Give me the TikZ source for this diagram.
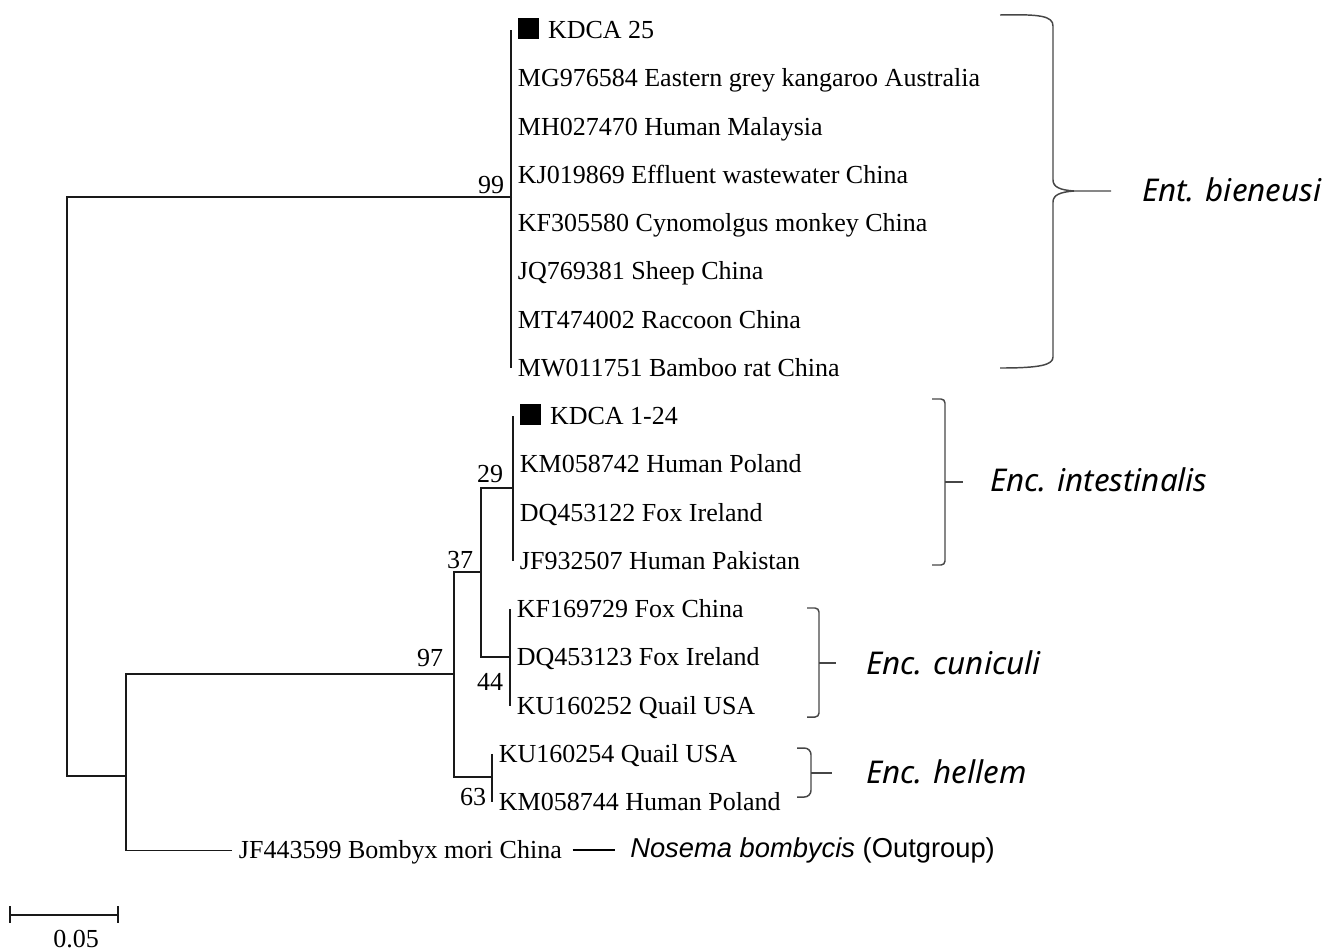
\documentclass[tikz,border=0pt]{standalone}
\usepackage{fontspec}
\setmainfont{Liberation Serif}
\newfontfamily\cladefont{Noto Sans}
\newfontfamily\grpfont{Liberation Sans}
\usetikzlibrary{calc}

\begin{document}
\begin{tikzpicture}[x=0.75pt,y=0.75pt,yscale=-1,xscale=1,
  branch/.style={draw={rgb, 255:red, 25; green, 25; blue, 25 },line width=1.1},
  bracket/.style={draw={rgb, 255:red, 70; green, 70; blue, 70 },line width=1.1,rounded corners=3},
  leaf/.style={anchor=west,inner xsep=5,inner ysep=0,text height=13pt,text depth=0pt,font=\fontsize{19.5}{23}\selectfont},
  boot/.style={inner sep=0,text height=13pt,text depth=0pt,font=\fontsize{19.5}{23}\selectfont},
  clade/.style={anchor=west,inner sep=0,font=\cladefont\itshape\fontsize{23.5}{28}\selectfont},
]
\useasboundingbox (0,0) rectangle (1341,951);

%Ent. bieneusi leaves
\node[leaf] (kdca25) at (511,30) {\rule{0.8em}{0.8em}\hspace{0.36em}KDCA 25};
\node[leaf] (mg976) at (511,78.25) {MG976584 Eastern grey kangaroo Australia};
\node[leaf] (mh027) at (511,126.5) {MH027470 Human Malaysia};
\node[leaf] (kj019) at (511,174.75) {KJ019869 Effluent wastewater China};
\node[leaf] (kf305) at (511,223) {KF305580 Cynomolgus monkey China};
\node[leaf] (jq769) at (511,271.25) {JQ769381 Sheep China};
\node[leaf] (mt474) at (511,319.5) {MT474002 Raccoon China};
\node[leaf] (mw011) at (511,367.75) {MW011751 Bamboo rat China};
%Enc. intestinalis leaves
\node[leaf] (kdca124) at (513,416) {\rule{0.8em}{0.8em}\hspace{0.36em}KDCA 1-24};
\node[leaf] (km742) at (513,464.25) {KM058742 Human Poland};
\node[leaf] (dq122) at (513,512.5) {DQ453122 Fox Ireland};
\node[leaf] (jf932) at (513,560.75) {JF932507 Human Pakistan};
%Enc. cuniculi leaves
\node[leaf] (kf169) at (510,609) {KF169729 Fox China};
\node[leaf] (dq123) at (510,657.25) {DQ453123 Fox Ireland};
\node[leaf] (ku252) at (510,705.5) {KU160252 Quail USA};
%Enc. hellem leaves
\node[leaf] (ku254) at (492,753.75) {KU160254 Quail USA};
\node[leaf] (km744) at (492,802) {KM058744 Human Poland};
%outgroup
\node[leaf] (jf443) at (232,850.25) {JF443599 Bombyx mori China};
\node[anchor=west,inner sep=0,font=\grpfont\fontsize{20.5}{24}\selectfont] (nosema) at (630,850.25) {\itshape Nosema bombycis\upshape{} (Outgroup)};

%inner nodes
\coordinate (c99) at (512,197);
\coordinate (c29) at (513,488);
\coordinate (c44) at (510,657);
\coordinate (c37) at (481,572);
\coordinate (c63) at (492,777);
\coordinate (c97) at (454,674);
\coordinate (cout) at (126,776);
\coordinate (root) at (67,486);

%branches
\draw[branch] (kdca25.west) -- (mw011.west);
\draw[branch] (kdca124.west) -- (jf932.west);
\draw[branch] (kf169.west) -- (ku252.west);
\draw[branch] (ku254.west) -- (km744.west);
\draw[branch] (c29) -| (c37);
\draw[branch] (c44) -| (c37);
\draw[branch] (c37) -| (c97);
\draw[branch] (c63) -| (c97);
\draw[branch] (c97) -| (cout);
\draw[branch] (jf443.west) -| (cout);
\draw[branch] (c99) -| (root);
\draw[branch] (cout) -| (root);
\draw[branch, draw=black, line width=1.5, shorten <=3, shorten >=11] (jf443.east) -- (nosema.west);

%bootstrap values
\node[boot] (b99) at (491,184.5) {99};
\node[boot] (b29) at (490,474) {29};
\node[boot] (b37) at (460,560) {37};
\node[boot] (b97) at (430,658) {97};
\node[boot] (b44) at (490,682) {44};
\node[boot] (b63) at (473,797) {63};

%Curve Lines: brace of Ent. bieneusi
\draw[bracket, rounded corners=0] (1000,15) .. controls (1040,14) and (1053,16) .. (1053,26) -- (1053,180) .. controls (1053,187) and (1060,190) .. (1074,191) -- (1111,191) ;
\draw[bracket, rounded corners=0] (1074,191) .. controls (1060,192) and (1053,195) .. (1053,202) -- (1053,357) .. controls (1053,365) and (1040,368) .. (1000,368) ;
%Straight Lines: brackets
\draw[bracket] (932,399) -- (945,399) -- (945,565) -- (932,565) ;
\draw[bracket] (945,482) -- (963,482) ;
\draw[bracket] (807,608) -- (819,608) -- (819,717) -- (807,717) ;
\draw[bracket] (819,663) -- (836,663) ;
\draw[bracket, rounded corners=5] (797,748) -- (811,748) -- (811,797) -- (797,797) ;
\draw[bracket] (811,773) -- (832,773) ;

%clade names
\node[clade] (entb) at (1142,190) {Ent. bieneusi};
\node[clade] (enci) at (990,480) {Enc. intestinalis};
\node[clade] (encc) at (866,663) {Enc. cuniculi};
\node[clade] (ench) at (866,772) {Enc. hellem};

%scale bar
\draw[branch] (10,915) -- (118,915) ;
\draw[branch] (10,906) -- (10,923) ;
\draw[branch] (118,906) -- (118,923) ;
\node[boot] (sbar) at (76,939) {0.05};

\end{tikzpicture}
\end{document}
